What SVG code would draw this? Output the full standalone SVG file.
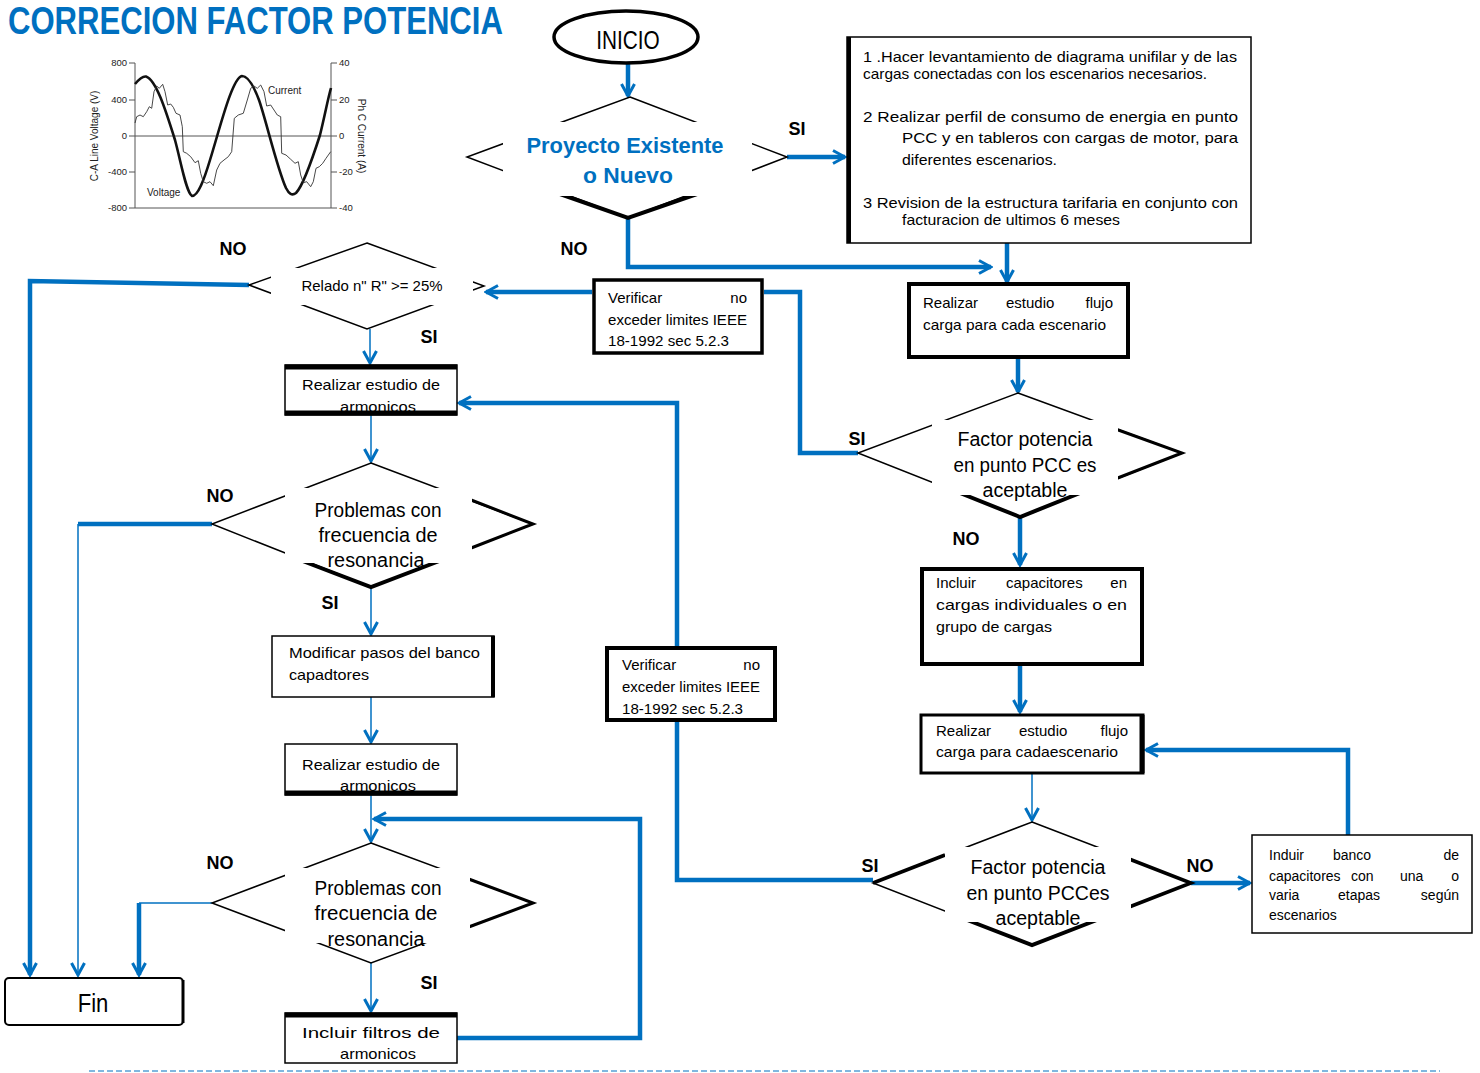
<svg xmlns="http://www.w3.org/2000/svg" width="1480" height="1073" viewBox="0 0 1480 1073">
<defs>
<marker id="ah" markerUnits="userSpaceOnUse" markerWidth="16" markerHeight="16" viewBox="0 0 16 16" refX="14" refY="8" orient="auto">
<path d="M2,1.5 L14,8 L2,14.5" fill="none" stroke="#0070C0" stroke-width="3"/>
</marker>
<style>
.n{font-family:"Liberation Sans",Arial,sans-serif;fill:#000}
.b{font-family:"Liberation Sans",Arial,sans-serif;font-weight:bold;font-size:18px;fill:#000;text-anchor:middle}
.s{font-family:"Liberation Sans",Arial,sans-serif;fill:#222}
.box{fill:#fff;stroke:#000;stroke-width:1.5}
.bx4{fill:#fff;stroke:#000;stroke-width:4}
.dia{fill:none;stroke:#000;stroke-width:1.5}
.thk{fill:none;stroke:#000;stroke-width:4}
.cov{fill:#fff;stroke:none}
.k{stroke:#0070C0;stroke-width:4.5;fill:none}
.th{stroke:#0070C0;stroke-width:1.5;fill:none}
.f15{font-size:15px}
.f14{font-size:14px}
.f20{font-size:20px}
</style>
</defs>
<rect width="1480" height="1073" fill="#fff"/>

<text transform="translate(8,34) scale(0.797,1)" font-family="Liberation Sans,Arial,sans-serif" font-weight="bold" font-size="39" fill="#0070C0">CORRECION FACTOR POTENCIA</text>

<g id="chart">
<g stroke="#555" stroke-width="1" fill="none">
<line x1="135" y1="63" x2="135" y2="208"/>
<line x1="331" y1="63" x2="331" y2="208"/>
<line x1="135" y1="208" x2="331" y2="208"/>
<line x1="135" y1="136" x2="331" y2="136"/>
<path d="M129,63H135M129,100H135M129,136H135M129,172H135M129,208H135M331,63H337M331,100H337M331,136H337M331,172H337M331,208H337"/>
</g>
<g class="s" font-size="9.5" text-anchor="end">
<text x="127" y="66">800</text><text x="127" y="103">400</text><text x="127" y="139">0</text><text x="127" y="175">-400</text><text x="127" y="211">-800</text>
</g>
<g class="s" font-size="9.5">
<text x="339" y="66">40</text><text x="339" y="103">20</text><text x="339" y="139">0</text><text x="339" y="175">-20</text><text x="339" y="211">-40</text>
</g>
<text class="s" font-size="10" text-anchor="middle" transform="translate(98,136) rotate(-90)">C-A Line Voltage (V)</text>
<text class="s" font-size="10" text-anchor="middle" transform="translate(358,136) rotate(90)">Ph C Current (A)</text>
<path fill="none" stroke="#111" stroke-width="2.6" d="M135,84 C140,78 143,76 146,76.5 C156,80 165,108 175,140 C181,162 186,192 192,196 C198,196 204,180 210,160 C220,128 232,78 242,76 C247,76 253,84 259,100 C266,120 277,168 286,188 C289,194 292,196 296,193 C303,186 312,160 320,135 C325,115 328,98 331,88"/>
<polyline fill="none" stroke="#333" stroke-width="0.9" points="135,123 136.7,116.7 140,115 143.3,116.7 146.7,111.7 149.3,106.7 151.7,108.3 154,91.7 156.7,86 159.3,88.3 162.7,84.3 165,91.7 167.7,105 170.7,104 173.3,107.3 176,113.3 180,115 182.3,126.7 183.3,151.7 186.7,153.3 190.7,156.7 195,162.7 198.3,160.7 200.7,173.3 203.3,181.7 206.7,183.3 210,181.7 213.3,185.7 216.7,170 220,163.3 224,160 228.3,156.7 231.7,151.7 234.3,118.3 238.3,115 243.3,113.3 247.3,100 250.7,88.3 254,86 257.3,88.3 260.7,85 264,91.7 266.7,106 270.7,105 274,110 277.3,115 280.7,116.7 281.7,153.3 286,155 290.7,159.3 295,163.3 298.3,161.7 300.7,175 303.3,182.7 306.7,181.7 310.7,186.7 313.3,181.7 316,168.3 319.3,166.7 322.7,163.3 326,158.3 330.7,151.7"/>
<text class="s" font-size="10" x="268" y="94">Current</text>
<text class="s" font-size="10" x="147" y="196">Voltage</text>
</g>

<g id="connectors">
<path class="k" d="M628,63 V96" marker-end="url(#ah)"/>
<path class="k" d="M787,157 H845" marker-end="url(#ah)"/>
<path class="k" d="M628,218 V267 H991" marker-end="url(#ah)"/>
<path class="k" d="M1007,243 V282" marker-end="url(#ah)"/>
<path class="k" d="M1018,359 V392" marker-end="url(#ah)"/>
<path class="k" d="M858,453 H800 V292 H764"/>
<path class="k" d="M592,292 H486" marker-end="url(#ah)"/>
<path class="k" d="M249,285 L30,281 V975" marker-end="url(#ah)"/>
<path class="th" d="M370,329 V363" marker-end="url(#ah)"/>
<path class="th" d="M371,415 V461" marker-end="url(#ah)"/>
<path class="k" d="M212,524 H78"/>
<path class="th" d="M78,524 V975" marker-end="url(#ah)"/>
<path class="th" d="M371,587 V634" marker-end="url(#ah)"/>
<path class="th" d="M371,697 V742" marker-end="url(#ah)"/>
<path class="th" d="M371,795 V841" marker-end="url(#ah)"/>
<path class="th" d="M212,903 H139"/>
<path class="k" d="M139,903 V975" marker-end="url(#ah)"/>
<path class="th" d="M371,963 V1011" marker-end="url(#ah)"/>
<path class="k" d="M457,1038 H640 V819 H374" marker-end="url(#ah)"/>
<path class="k" d="M1020,517 V565" marker-end="url(#ah)"/>
<path class="k" d="M1020,665 V712" marker-end="url(#ah)"/>
<path class="th" d="M1032,774 V820" marker-end="url(#ah)"/>
<path class="k" d="M1191,883 H1250" marker-end="url(#ah)"/>
<path class="k" d="M1348,835 V750 H1146" marker-end="url(#ah)"/>
<path class="k" d="M873,880 H677 V721"/>
<path class="k" d="M677,646 V403 H459" marker-end="url(#ah)"/>
</g>

<g id="inicio">
<ellipse cx="626" cy="37" rx="72" ry="26" fill="#fff" stroke="#000" stroke-width="3.5"/>
<text class="n" transform="translate(628,49) scale(0.8,1)" font-size="26" text-anchor="middle">INICIO</text>
</g>

<g id="d1">
<polygon class="dia" points="630,97 787,157 628,218 467,157"/>
<polyline class="thk" points="560,194 628,218 697,194"/>
<rect class="cov" x="503" y="122" width="249" height="74"/>
<text x="625" y="153" font-family="Liberation Sans,Arial,sans-serif" font-weight="bold" font-size="22" fill="#0070C0" text-anchor="middle" textLength="197" lengthAdjust="spacingAndGlyphs">Proyecto Existente</text>
<text x="628" y="183" font-family="Liberation Sans,Arial,sans-serif" font-weight="bold" font-size="22" fill="#0070C0" text-anchor="middle" textLength="90" lengthAdjust="spacingAndGlyphs">o Nuevo</text>
</g>

<g id="box1">
<rect class="box" x="847" y="37" width="404" height="206"/>
<line x1="849" y1="37" x2="849" y2="243" stroke="#000" stroke-width="4"/>
<g class="n f15">
<text x="863" y="62" textLength="374" lengthAdjust="spacingAndGlyphs">1 .Hacer levantamiento de diagrama unifilar y de las</text>
<text x="863" y="79" textLength="344" lengthAdjust="spacingAndGlyphs">cargas conectadas con los escenarios necesarios.</text>
<text x="863" y="122" textLength="375" lengthAdjust="spacingAndGlyphs">2 Realizar perfil de consumo de energia en punto</text>
<text x="902" y="143" textLength="336" lengthAdjust="spacingAndGlyphs">PCC y en tableros con cargas de motor, para</text>
<text x="902" y="165" textLength="155" lengthAdjust="spacingAndGlyphs">diferentes escenarios.</text>
<text x="863" y="208" textLength="375" lengthAdjust="spacingAndGlyphs">3 Revision de la estructura tarifaria en conjunto con</text>
<text x="902" y="225" textLength="218" lengthAdjust="spacingAndGlyphs">facturacion de ultimos 6 meses</text>
</g>
</g>

<g id="flujo1">
<rect class="bx4" x="909" y="284" width="219" height="73"/>
<g class="n f15">
<text x="923" y="308">Realizar</text><text x="1006" y="308">estudio</text><text x="1113" y="308" text-anchor="end">flujo</text>
<text x="923" y="330" textLength="183" lengthAdjust="spacingAndGlyphs">carga para cada escenario</text>
</g>
</g>

<g id="d2">
<polygon class="dia" points="1018,393 1182,453 1020,517 858,453"/>
<polyline fill="none" stroke="#000" stroke-width="3" points="1110,427 1182,453 1110,481"/>
<polyline class="thk" points="945,487 1020,517 1095,487"/>
<rect class="cov" x="932" y="420" width="186" height="75"/>
<g class="n f20" text-anchor="middle">
<text x="1025" y="446" textLength="135" lengthAdjust="spacingAndGlyphs">Factor potencia</text>
<text x="1025" y="472" textLength="143" lengthAdjust="spacingAndGlyphs">en punto PCC es</text>
<text x="1025" y="497" textLength="85" lengthAdjust="spacingAndGlyphs">aceptable</text>
</g>
</g>

<g id="verif1">
<rect fill="#fff" stroke="#000" stroke-width="3.5" x="594" y="280" width="168" height="73"/>
<g class="n f15">
<text x="608" y="303">Verificar</text><text x="747" y="303" text-anchor="end">no</text>
<text x="608" y="325" textLength="139" lengthAdjust="spacingAndGlyphs">exceder limites IEEE</text>
<text x="608" y="346" textLength="121" lengthAdjust="spacingAndGlyphs">18-1992 sec 5.2.3</text>
</g>
</g>

<g id="d3">
<polygon class="dia" points="367,243 484,286 367,329 249,285"/>
<rect class="cov" x="271" y="268" width="202" height="37"/>
<text class="n f15" x="372" y="291" text-anchor="middle" textLength="141" lengthAdjust="spacingAndGlyphs">Relado n" R" &gt;= 25%</text>
</g>

<g id="arm1">
<rect class="box" x="285" y="365" width="172" height="50"/>
<line x1="285" y1="367" x2="457" y2="367" stroke="#000" stroke-width="5"/>
<line x1="285" y1="413" x2="457" y2="413" stroke="#000" stroke-width="5"/>
<g class="n f15" text-anchor="middle">
<text x="371" y="390" textLength="138" lengthAdjust="spacingAndGlyphs">Realizar estudio de</text>
<text x="378" y="412" textLength="76" lengthAdjust="spacingAndGlyphs">armonicos</text>
</g>
</g>

<g id="d5">
<polygon class="dia" points="371,463 533,524 371,587 212,524"/>
<polyline fill="none" stroke="#000" stroke-width="3" points="466,498 533,524 466,550"/>
<polyline class="thk" points="300,560 371,587 442,560"/>
<rect class="cov" x="285" y="488" width="187" height="75"/>
<g class="n f20" text-anchor="middle">
<text x="378" y="517" textLength="127" lengthAdjust="spacingAndGlyphs">Problemas con</text>
<text x="378" y="542" textLength="119" lengthAdjust="spacingAndGlyphs">frecuencia de</text>
<text x="376" y="567" textLength="97" lengthAdjust="spacingAndGlyphs">resonancia</text>
</g>
</g>

<g id="modificar">
<rect class="box" x="272" y="636" width="222" height="61"/>
<line x1="493" y1="636" x2="493" y2="697" stroke="#000" stroke-width="4"/>
<g class="n f15">
<text x="289" y="658" textLength="191" lengthAdjust="spacingAndGlyphs">Modificar pasos del banco</text>
<text x="289" y="680" textLength="80" lengthAdjust="spacingAndGlyphs">capadtores</text>
</g>
</g>

<g id="arm2">
<rect class="box" x="285" y="744" width="172" height="51"/>
<line x1="285" y1="793" x2="457" y2="793" stroke="#000" stroke-width="5"/>
<g class="n f15" text-anchor="middle">
<text x="371" y="770" textLength="138" lengthAdjust="spacingAndGlyphs">Realizar estudio de</text>
<text x="378" y="791" textLength="76" lengthAdjust="spacingAndGlyphs">armonicos</text>
</g>
</g>

<g id="d6">
<polygon class="dia" points="371,843 533,903 371,963 212,903"/>
<polyline fill="none" stroke="#000" stroke-width="3" points="466,878 533,903 466,928"/>
<rect class="cov" x="285" y="868" width="185" height="75"/>
<g class="n f20" text-anchor="middle">
<text x="378" y="895" textLength="127" lengthAdjust="spacingAndGlyphs">Problemas con</text>
<text x="376" y="920" textLength="123" lengthAdjust="spacingAndGlyphs">frecuencia de</text>
<text x="376" y="946" textLength="97" lengthAdjust="spacingAndGlyphs">resonancia</text>
</g>
</g>

<g id="filtros">
<rect class="box" x="285" y="1013" width="172" height="50"/>
<line x1="285" y1="1015" x2="457" y2="1015" stroke="#000" stroke-width="5"/>
<g class="n f15" text-anchor="middle">
<text x="371" y="1038" textLength="138" lengthAdjust="spacingAndGlyphs">Incluir filtros de</text>
<text x="378" y="1059" textLength="76" lengthAdjust="spacingAndGlyphs">armonicos</text>
</g>
</g>

<g id="fin">
<rect x="5" y="978" width="178" height="47" rx="4" fill="#fff" stroke="#000" stroke-width="2"/>
<line x1="183" y1="980" x2="183" y2="1023" stroke="#000" stroke-width="3"/>
<text class="n" transform="translate(93,1012) scale(0.85,1)" font-size="26" text-anchor="middle">Fin</text>
</g>

<g id="verif2">
<rect fill="#fff" stroke="#000" stroke-width="4" x="607" y="648" width="168" height="72"/>
<g class="n f15">
<text x="622" y="670">Verificar</text><text x="760" y="670" text-anchor="end">no</text>
<text x="622" y="692" textLength="138" lengthAdjust="spacingAndGlyphs">exceder limites IEEE</text>
<text x="622" y="714" textLength="121" lengthAdjust="spacingAndGlyphs">18-1992 sec 5.2.3</text>
</g>
</g>

<g id="capac">
<rect class="bx4" x="922" y="569" width="220" height="95"/>
<g class="n f15">
<text x="936" y="588">Incluir</text><text x="1006" y="588">capacitores</text><text x="1127" y="588" text-anchor="end">en</text>
<text x="936" y="610" textLength="191" lengthAdjust="spacingAndGlyphs">cargas individuales o en</text>
<text x="936" y="632" textLength="116" lengthAdjust="spacingAndGlyphs">grupo de cargas</text>
</g>
</g>

<g id="flujo2">
<rect fill="#fff" stroke="#000" stroke-width="3" x="921" y="715" width="222" height="58"/>
<line x1="1142" y1="715" x2="1142" y2="773" stroke="#000" stroke-width="5"/>
<g class="n f15">
<text x="936" y="736">Realizar</text><text x="1019" y="736">estudio</text><text x="1128" y="736" text-anchor="end">flujo</text>
<text x="936" y="757" textLength="182" lengthAdjust="spacingAndGlyphs">carga para cadaescenario</text>
</g>
</g>

<g id="d4">
<polygon class="dia" points="1032,822 1191,883 1032,945 873,883"/>
<polyline fill="none" stroke="#000" stroke-width="3.5" points="1124,857 1191,883 1124,909"/>
<line x1="873" y1="883" x2="945" y2="855" stroke="#000" stroke-width="3.5"/>
<polyline class="thk" points="962,918 1032,945 1102,918"/>
<rect class="cov" x="945" y="847" width="186" height="75"/>
<g class="n f20" text-anchor="middle">
<text x="1038" y="874" textLength="135" lengthAdjust="spacingAndGlyphs">Factor potencia</text>
<text x="1038" y="900" textLength="143" lengthAdjust="spacingAndGlyphs">en punto PCCes</text>
<text x="1038" y="925" textLength="85" lengthAdjust="spacingAndGlyphs">aceptable</text>
</g>
</g>

<g id="induir">
<rect class="box" x="1252" y="835" width="220" height="98"/>
<g class="n f14">
<text x="1269" y="860">Induir</text><text x="1333" y="860">banco</text><text x="1459" y="860" text-anchor="end">de</text>
<text x="1269" y="881">capacitores</text><text x="1351" y="881">con</text><text x="1400" y="881">una</text><text x="1459" y="881" text-anchor="end">o</text>
<text x="1269" y="900">varia</text><text x="1338" y="900">etapas</text><text x="1459" y="900" text-anchor="end">según</text>
<text x="1269" y="920">escenarios</text>
</g>
</g>

<g id="labels">
<text class="b" x="233" y="255">NO</text>
<text class="b" x="574" y="255">NO</text>
<text class="b" x="220" y="502">NO</text>
<text class="b" x="220" y="869">NO</text>
<text class="b" x="966" y="545">NO</text>
<text class="b" x="1200" y="872">NO</text>
<text class="b" x="797" y="135">SI</text>
<text class="b" x="429" y="343">SI</text>
<text class="b" x="857" y="445">SI</text>
<text class="b" x="330" y="609">SI</text>
<text class="b" x="870" y="872">SI</text>
<text class="b" x="429" y="989">SI</text>
</g>

<line x1="89" y1="1071" x2="1440" y2="1071" stroke="#0070C0" stroke-width="1" stroke-dasharray="6 3"/>
</svg>
